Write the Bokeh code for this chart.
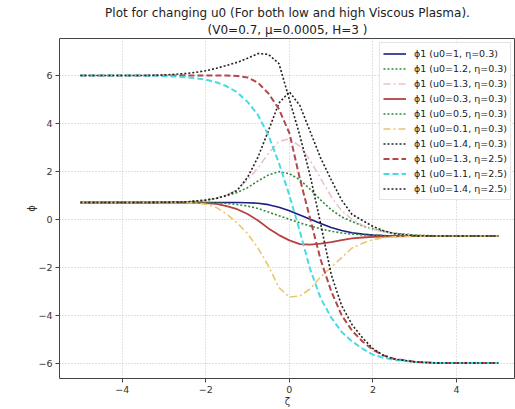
from bokeh.plotting import figure
from bokeh.models import Range1d, FixedTicker, Legend, LegendItem, Title
from bokeh.embed import file_html
from bokeh.resources import INLINE

# zeta sample points
zeta = [-5, -4.5, -4, -3.5, -3, -2.5, -2.25, -2, -1.75, -1.5, -1.25, -1, -0.75, -0.5, -0.25,
        0, 0.25, 0.5, 0.75, 1, 1.25, 1.5, 1.75, 2, 2.25, 2.5, 3, 3.5, 4, 4.5, 5]

# phi1 profiles, low viscosity (eta = 0.3)
phi_u10_e03 = [0.70, 0.70, 0.70, 0.70, 0.70, 0.70, 0.70, 0.70, 0.70, 0.70, 0.70, 0.69, 0.67, 0.61, 0.50,
               0.36, 0.18, 0.00, -0.18, -0.34, -0.47, -0.56, -0.62, -0.66, -0.68, -0.69, -0.70, -0.70, -0.70, -0.70, -0.70]
phi_u12_e03 = [0.70, 0.70, 0.70, 0.70, 0.71, 0.72, 0.76, 0.80, 0.88, 0.98, 1.12, 1.32, 1.60, 1.85, 1.99,
               1.90, 1.65, 1.25, 0.80, 0.40, 0.10, -0.10, -0.28, -0.40, -0.50, -0.58, -0.66, -0.69, -0.70, -0.70, -0.70]
phi_u13_e03 = [0.70, 0.70, 0.70, 0.70, 0.71, 0.72, 0.75, 0.80, 0.88, 1.00, 1.25, 1.65, 2.15, 2.75, 3.25,
               3.35, 3.05, 2.45, 1.70, 0.95, 0.35, 0.00, -0.25, -0.42, -0.53, -0.60, -0.67, -0.70, -0.70, -0.70, -0.70]
phi_u03_e03 = [0.70, 0.70, 0.70, 0.70, 0.70, 0.70, 0.70, 0.68, 0.64, 0.55, 0.42, 0.22, -0.05, -0.38, -0.66,
               -0.88, -1.04, -1.06, -1.02, -0.95, -0.87, -0.80, -0.76, -0.73, -0.72, -0.71, -0.70, -0.70, -0.70, -0.70, -0.70]
phi_u05_e03 = [0.70, 0.70, 0.70, 0.70, 0.70, 0.70, 0.70, 0.70, 0.69, 0.66, 0.62, 0.55, 0.45, 0.30, 0.15,
               0.00, -0.15, -0.28, -0.40, -0.50, -0.57, -0.62, -0.65, -0.67, -0.68, -0.69, -0.70, -0.70, -0.70, -0.70, -0.70]
phi_u01_e03 = [0.70, 0.70, 0.70, 0.70, 0.70, 0.70, 0.68, 0.63, 0.50, 0.22, -0.15, -0.60, -1.20, -1.95, -2.85,
               -3.25, -3.20, -2.90, -2.40, -2.00, -1.60, -1.20, -1.00, -0.85, -0.77, -0.73, -0.70, -0.70, -0.70, -0.70, -0.70]
phi_u14_e03 = [0.70, 0.70, 0.70, 0.70, 0.71, 0.72, 0.76, 0.80, 0.87, 1.00, 1.20, 1.75, 2.60, 3.70, 4.85,
               5.32, 4.75, 3.65, 2.55, 1.65, 0.80, 0.20, -0.05, -0.30, -0.48, -0.60, -0.68, -0.70, -0.70, -0.70, -0.70]

# phi1 profiles, high viscosity (eta = 2.5)
phi_u13_e25 = [6.00, 6.00, 6.00, 6.00, 6.00, 6.00, 6.00, 6.00, 6.00, 6.00, 5.98, 5.92, 5.70, 5.25, 4.60,
               3.60, 1.70, 0.00, -1.70, -3.00, -4.00, -4.65, -5.10, -5.45, -5.68, -5.82, -5.95, -6.00, -6.00, -6.00, -6.00]
phi_u11_e25 = [6.00, 6.00, 6.00, 6.00, 5.98, 5.93, 5.89, 5.83, 5.72, 5.55, 5.30, 4.90, 4.35, 3.50, 2.35,
               1.00, -0.50, -2.10, -3.30, -4.10, -4.70, -5.10, -5.40, -5.65, -5.78, -5.87, -5.95, -6.00, -6.00, -6.00, -6.00]
phi_u14_e25 = [6.00, 6.00, 6.00, 6.00, 6.02, 6.08, 6.13, 6.20, 6.30, 6.42, 6.55, 6.72, 6.92, 6.88, 6.50,
               5.00, 3.50, 1.80, -0.20, -2.30, -3.60, -4.40, -4.95, -5.40, -5.68, -5.83, -5.95, -6.00, -6.00, -6.00, -6.00]

title_lines = ["Plot for changing u0 (For both low and high Viscous Plasma).",
               "(V0=0.7, μ=0.0005, H=3 )"]

DOT = "2 2"
DASH = "6 3"
DASHDOT = "7 3 2 3"

series = [
    ("ϕ1 (u0=1, η=0.3)", phi_u10_e03, "#1c1f80", 1.6, "solid"),
    ("ϕ1 (u0=1.2, η=0.3)", phi_u12_e03, "#2e8b3a", 1.6, DOT),
    ("ϕ1 (u0=1.3, η=0.3)", phi_u13_e03, "#e9c3cb", 1.6, DASHDOT),
    ("ϕ1 (u0=0.3, η=0.3)", phi_u03_e03, "#b8413f", 1.8, "solid"),
    ("ϕ1 (u0=0.5, η=0.3)", phi_u05_e03, "#2e8b3a", 1.6, DOT),
    ("ϕ1 (u0=0.1, η=0.3)", phi_u01_e03, "#e8c86e", 1.6, DASHDOT),
    ("ϕ1 (u0=1.4, η=0.3)", phi_u14_e03, "#222222", 1.6, DOT),
    ("ϕ1 (u0=1.3, η=2.5)", phi_u13_e25, "#b3474a", 2.0, DASH),
    ("ϕ1 (u0=1.1, η=2.5)", phi_u11_e25, "#48dbe3", 2.0, DASH),
    ("ϕ1 (u0=1.4, η=2.5)", phi_u14_e25, "#222222", 1.6, DOT),
]

FONT = "DejaVu Sans"

p = figure(width=515, height=409, output_backend="svg", toolbar_location=None,
           x_range=Range1d(-5.5, 5.41), y_range=Range1d(-6.645, 7.545),
           min_border_left=59, min_border_right=0, min_border_top=38, min_border_bottom=28,
           title=None)

# two centred title lines, the lower one nearest the frame
for i, txt in enumerate(reversed(title_lines)):
    p.add_layout(Title(text=txt, align="center", text_font=FONT, text_font_size="12px",
                       text_font_style="normal", text_color="#222222",
                       standoff=(3 if i == 0 else 0), text_line_height=0.95), "above")

items = []
for label, ys, color, width, dash in series:
    r = p.line(zeta, ys, line_color=color, line_width=width, line_dash=dash)
    items.append(LegendItem(label=label, renderers=[r]))

legend = Legend(items=items, location="top_right", margin=4, padding=3, spacing=0,
                label_height=15, glyph_height=15, glyph_width=23, label_standoff=8,
                label_text_font=FONT, label_text_font_size="9.5px", label_text_color="#222222",
                border_line_color="#cccccc", border_line_width=1,
                background_fill_color="white", background_fill_alpha=0.85)
p.add_layout(legend)

x_ticks = [-4, -2, 0, 2, 4]
y_ticks = [-6, -4, -2, 0, 2, 4, 6]
p.xaxis.ticker = FixedTicker(ticks=x_ticks)
p.yaxis.ticker = FixedTicker(ticks=y_ticks)
p.xaxis.major_label_overrides = {t: str(t).replace("-", "\u2212") for t in x_ticks}
p.yaxis.major_label_overrides = {t: str(t).replace("-", "\u2212") for t in y_ticks}

p.xaxis.axis_label = "ζ"
p.yaxis.axis_label = "ϕ"
for ax in (p.xaxis[0], p.yaxis[0]):
    ax.axis_line_color = None
    ax.major_tick_line_color = "#444444"
    ax.major_tick_out = 4
    ax.major_tick_in = 0
    ax.minor_tick_line_color = None
    ax.major_label_text_font = FONT
    ax.major_label_text_font_size = "9.5px"
    ax.major_label_text_color = "#333333"
    ax.major_label_standoff = 3
    ax.axis_label_text_font = FONT
    ax.axis_label_text_font_size = "10px"
    ax.axis_label_text_font_style = "normal"
    ax.axis_label_text_color = "#333333"
p.xaxis.axis_label_standoff = 0
p.yaxis.axis_label_standoff = -2

for g in (p.xgrid[0], p.ygrid[0]):
    g.grid_line_color = "#b5b5b5"
    g.grid_line_dash = "1 2"
    g.grid_line_width = 0.8
p.xgrid.ticker = FixedTicker(ticks=x_ticks)
p.ygrid.ticker = FixedTicker(ticks=y_ticks)

p.outline_line_color = "#444444"
p.outline_line_width = 1
p.background_fill_color = "white"
p.border_fill_color = "white"

open("out.html", "w").write(file_html(p, INLINE))
